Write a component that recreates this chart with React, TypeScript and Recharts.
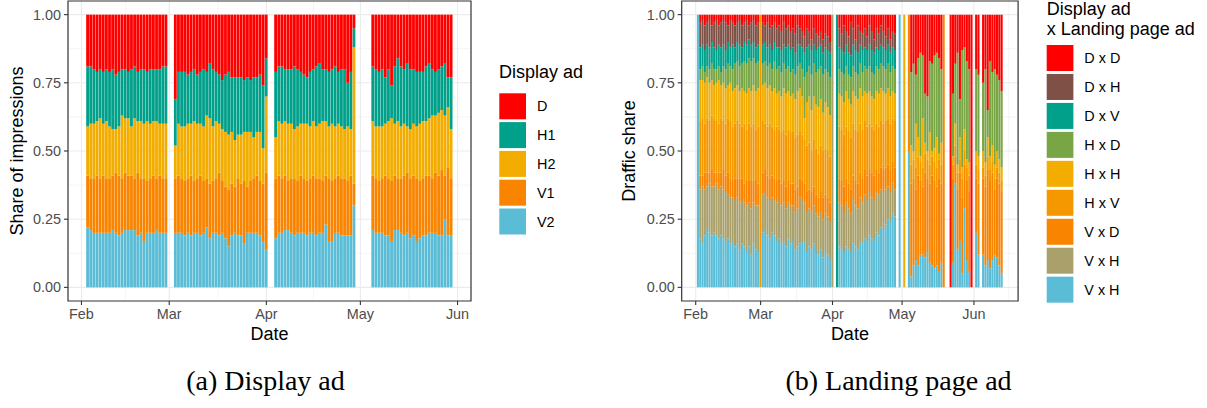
import React from 'react';
import { BarChart, Bar, XAxis, YAxis, CartesianGrid, ReferenceArea } from 'recharts';

const SANS = '"Liberation Sans", Arial, Helvetica, sans-serif';
const SERIF = '"Liberation Serif", "Times New Roman", serif';

const range = (a: number, b: number): number[] => Array.from({ length: b - a + 1 }, (_, i) => a + i);

// x values are days counted from 1 February
const monthTicks = [0, 28, 59, 89, 120];
const monthLabels = ['Feb', 'Mar', 'Apr', 'May', 'Jun'];
const minorDays = [14, 43.5, 74, 104.5, 135];
const shareTicks = [0, 0.25, 0.5, 0.75, 1];
const minorShares = [0.125, 0.375, 0.625, 0.875];

// ---------- (a) display ad impressions ----------
const impressionDays = [...range(2, 27), ...range(30, 59), ...range(62, 87), ...range(93, 118)];

// cumulative share (%) at the upper edge of each layer, bottom to top
const v2Top = [
  22, 21, 20, 20, 20, 20, 20, 20, 21, 20, 19, 20, 21, 21, 21, 21, 19, 20, 17, 20, 20, 20, 21, 20, 20, 20,
  20, 20, 20, 19, 20, 19, 20, 20, 19, 20, 22, 18, 20, 20, 19, 20, 18, 15, 19, 20, 19, 19, 16, 20, 20, 20, 20, 19, 17, 14,
  18, 20, 20, 21, 21, 20, 19, 20, 20, 20, 19, 20, 20, 19, 20, 20, 23, 17, 17, 20, 20, 19, 19, 19, 19, 30,
  21, 20, 20, 20, 19, 19, 17, 21, 21, 20, 19, 20, 18, 19, 17, 18, 19, 19, 20, 20, 20, 19, 19, 25, 19, 19,
];
const v1Top = [
  41, 40, 40, 41, 40, 41, 40, 40, 41, 42, 41, 40, 42, 41, 41, 40, 42, 40, 40, 39, 40, 41, 40, 41, 40, 40,
  40, 41, 40, 39, 40, 41, 39, 40, 41, 39, 40, 38, 39, 40, 42, 39, 37, 36, 38, 37, 40, 38, 39, 37, 39, 40, 41, 39, 38, 42,
  40, 41, 40, 41, 39, 40, 40, 39, 41, 40, 39, 40, 41, 40, 40, 39, 41, 40, 39, 40, 41, 40, 40, 39, 41, 38,
  41, 40, 39, 40, 41, 40, 39, 41, 40, 40, 41, 42, 40, 41, 40, 39, 40, 41, 41, 40, 42, 41, 43, 41, 44, 40,
];
const h2Top = [
  59, 60, 60, 61, 62, 60, 61, 59, 58, 58, 59, 63, 62, 62, 59, 62, 61, 61, 60, 61, 60, 61, 61, 60, 60, 60,
  52, 60, 59, 59, 60, 60, 61, 60, 60, 59, 63, 62, 59, 61, 60, 58, 57, 56, 57, 54, 56, 56, 57, 57, 57, 55, 57, 57, 51, 70,
  55, 61, 60, 61, 60, 60, 58, 59, 60, 60, 60, 59, 61, 59, 60, 61, 61, 59, 60, 59, 60, 59, 58, 59, 58, 88,
  61, 59, 59, 59, 60, 61, 62, 60, 61, 59, 60, 59, 58, 60, 59, 60, 61, 61, 62, 63, 63, 64, 65, 63, 66, 58,
];
const h1Top = [
  81, 81, 80, 79, 80, 79, 80, 79, 80, 78, 79, 80, 80, 79, 80, 81, 79, 80, 80, 79, 80, 80, 80, 80, 81, 81,
  69, 79, 79, 79, 78, 79, 80, 78, 79, 80, 79, 82, 80, 79, 78, 76, 78, 79, 77, 77, 77, 77, 76, 77, 76, 77, 77, 78, 74, 84,
  79, 81, 81, 80, 80, 80, 81, 80, 79, 78, 77, 79, 80, 81, 82, 80, 80, 79, 80, 81, 79, 80, 80, 75, 79, 95,
  81, 80, 79, 80, 77, 80, 74, 81, 84, 81, 80, 82, 80, 80, 79, 79, 79, 81, 82, 80, 79, 80, 81, 82, 77, 77,
];

const displaySeries = [
  { key: 'V2', color: '#5BBCD6' },
  { key: 'V1', color: '#F98400' },
  { key: 'H2', color: '#F2AD00' },
  { key: 'H1', color: '#00A08A' },
  { key: 'D', color: '#FF0000' },
];

const impressionRows = impressionDays.map((day, i) => ({
  day,
  V2: v2Top[i] / 100,
  V1: (v1Top[i] - v2Top[i]) / 100,
  H2: (h2Top[i] - v1Top[i]) / 100,
  H1: (h1Top[i] - h2Top[i]) / 100,
  D: (100 - h1Top[i]) / 100,
}));

// ---------- (b) display ad x landing page ad traffic ----------
const trafficDays = [
  1, ...range(2, 27), 28, ...range(29, 58), 59, 61, ...range(62, 86), 88, 90, 92, ...range(93, 106), 107,
  110, ...range(111, 118), 119, 121, 122, ...range(124, 132),
];

// cumulative share (%) at the upper edge of each layer, bottom to top
const vhBlueTop = [
  100,
  18, 16, 19, 21, 20, 19, 20, 19, 18, 19, 18, 17, 18, 16, 17, 15, 16, 14, 16, 15, 13, 15, 12, 16, 14, 13,
  0,
  20, 21, 19, 18, 20, 19, 17, 18, 16, 17, 15, 18, 16, 17, 14, 15, 16, 17, 17, 13, 15, 14, 16, 13, 12, 14, 11, 13, 12, 10,
  0, 0,
  15, 14, 13, 15, 14, 13, 16, 15, 14, 17, 16, 18, 17, 19, 18, 17, 20, 19, 22, 21, 23, 25, 24, 27, 26,
  100, 0, 50,
  4, 8, 10, 8, 12, 12, 11, 13, 9, 8, 7, 8, 6, 9,
  0, 0,
  9, 38, 14, 17, 5, 29, 10, 6,
  0,
  20, 12,
  12, 8, 10, 7, 10, 12, 11, 8, 5,
];
const vhTanTop = [
  100,
  36, 37, 36, 37, 38, 37, 37, 38, 36, 37, 36, 35, 34, 33, 33, 32, 33, 31, 32, 31, 30, 31, 29, 31, 30, 30,
  0,
  34, 35, 33, 32, 33, 32, 31, 32, 30, 31, 29, 31, 30, 30, 28, 29, 33, 32, 31, 28, 29, 28, 30, 27, 26, 28, 25, 27, 26, 24,
  100, 0,
  31, 30, 28, 31, 29, 27, 32, 30, 29, 33, 31, 34, 32, 35, 33, 32, 35, 34, 36, 35, 36, 37, 35, 38, 36,
  100, 0, 50,
  4, 8, 10, 8, 12, 12, 11, 13, 9, 8, 7, 8, 6, 9,
  0, 0,
  9, 38, 14, 17, 5, 29, 10, 6,
  0,
  20, 12,
  12, 8, 10, 7, 10, 12, 11, 8, 5,
];
const vdTop = [
  100,
  41, 41, 42, 42, 42, 43, 42, 42, 42, 42, 43, 41, 42, 40, 39, 40, 40, 40, 40, 38, 39, 39, 39, 39, 39, 38,
  0,
  42, 43, 41, 40, 41, 40, 39, 40, 38, 39, 37, 39, 38, 38, 36, 37, 40, 39, 38, 35, 36, 35, 37, 34, 33, 35, 33, 34, 33, 31,
  100, 0,
  40, 39, 37, 40, 38, 36, 41, 39, 38, 42, 40, 43, 41, 43, 42, 41, 43, 42, 44, 43, 44, 45, 43, 46, 44,
  100, 0, 100,
  38, 40, 36, 41, 39, 37, 42, 40, 38, 41, 39, 37, 40, 38,
  100, 0,
  40, 48, 36, 42, 33, 45, 39, 35,
  0,
  40, 38,
  40, 37, 43, 39, 42, 36, 40, 38, 35,
];
const hvTop = [
  100,
  61, 62, 60, 62, 61, 63, 62, 61, 60, 62, 61, 60, 62, 61, 59, 60, 61, 60, 59, 60, 58, 60, 59, 60, 58, 59,
  100,
  61, 60, 59, 60, 59, 58, 59, 58, 57, 58, 56, 58, 57, 57, 55, 56, 57, 56, 54, 52, 53, 50, 54, 51, 49, 52, 50, 51, 50, 48,
  100, 0,
  59, 58, 56, 59, 57, 55, 60, 58, 57, 60, 58, 61, 59, 60, 59, 58, 60, 59, 61, 60, 61, 62, 60, 62, 61,
  100, 0, 100,
  45, 47, 44, 48, 46, 44, 49, 47, 45, 48, 46, 44, 47, 45,
  100, 0,
  45, 52, 42, 47, 40, 50, 44, 41,
  0,
  45, 43,
  44, 41, 48, 43, 46, 40, 44, 42, 39,
];
const hhTop = [
  100,
  76, 76, 75, 77, 75, 76, 74, 75, 76, 74, 75, 73, 74, 75, 72, 73, 74, 72, 73, 72, 71, 73, 72, 74, 72, 73,
  100,
  74, 75, 73, 74, 72, 73, 71, 72, 70, 73, 71, 72, 70, 71, 69, 72, 73, 70, 62, 68, 70, 65, 70, 67, 66, 69, 64, 68, 66, 63,
  100, 0,
  71, 70, 68, 72, 69, 67, 72, 70, 69, 73, 70, 72, 71, 72, 70, 69, 72, 71, 73, 72, 71, 73, 70, 72, 71,
  100, 100, 100,
  52, 50, 60, 55, 48, 62, 53, 50, 57, 50, 51, 55, 49, 53,
  100, 0,
  48, 60, 45, 55, 44, 58, 47, 46,
  0,
  50, 48,
  50, 46, 55, 48, 52, 45, 50, 47, 44,
];
const hdTop = [
  100,
  80, 81, 79, 81, 80, 82, 80, 80, 81, 79, 81, 80, 82, 81, 80, 82, 83, 81, 82, 83, 82, 84, 83, 84, 82, 83,
  100,
  82, 83, 81, 82, 80, 83, 80, 81, 79, 82, 80, 81, 79, 80, 78, 81, 82, 80, 77, 79, 81, 78, 82, 79, 80, 81, 78, 80, 79, 77,
  100, 0,
  80, 79, 78, 81, 78, 77, 81, 79, 78, 82, 79, 81, 80, 81, 79, 78, 81, 80, 82, 81, 80, 82, 79, 81, 80,
  100, 100, 100,
  79, 82, 78, 84, 86, 85, 71, 70, 83, 82, 85, 86, 84, 80,
  100, 0,
  71, 82, 86, 69, 87, 88, 83, 80,
  0,
  80, 78,
  75, 80, 65, 83, 79, 80, 78, 76, 72,
];
const dvTop = [
  100,
  88, 89, 87, 89, 88, 90, 88, 87, 89, 88, 89, 87, 90, 88, 89, 88, 90, 89, 88, 90, 89, 91, 89, 90, 88, 89,
  100,
  89, 90, 88, 89, 87, 90, 88, 88, 87, 89, 88, 89, 87, 88, 86, 89, 89, 88, 86, 88, 89, 87, 89, 87, 88, 89, 86, 88, 87, 86,
  100, 100,
  88, 87, 86, 89, 86, 85, 89, 87, 86, 89, 87, 88, 87, 89, 87, 86, 88, 87, 89, 88, 87, 89, 86, 88, 87,
  100, 100, 100,
  79, 82, 78, 84, 86, 85, 71, 70, 83, 82, 85, 86, 84, 80,
  100, 0,
  71, 82, 86, 69, 87, 88, 83, 80,
  0,
  80, 78,
  75, 80, 65, 83, 79, 80, 78, 76, 72,
];
const dhTop = [
  100,
  97, 98, 96, 97, 98, 96, 97, 98, 96, 97, 98, 97, 96, 98, 97, 96, 97, 98, 96, 97, 98, 96, 97, 98, 96, 97,
  100,
  97, 96, 97, 95, 96, 97, 95, 96, 94, 97, 95, 96, 94, 95, 93, 96, 95, 94, 92, 95, 94, 91, 95, 93, 92, 94, 91, 93, 92, 90,
  100, 100,
  95, 93, 96, 94, 92, 97, 95, 91, 96, 94, 93, 95, 92, 96, 94, 91, 95, 93, 96, 94, 92, 95, 91, 94, 93,
  100, 100, 100,
  79, 82, 78, 84, 86, 85, 71, 70, 83, 82, 85, 86, 84, 80,
  100, 0,
  71, 82, 86, 69, 87, 88, 83, 80,
  0,
  80, 78,
  75, 80, 65, 83, 79, 80, 78, 76, 72,
];

const trafficSeries = [
  { key: 'vh2', label: 'V x H', color: '#5BBCD6' },
  { key: 'vh1', label: 'V x H', color: '#AAA06B' },
  { key: 'vd', label: 'V x D', color: '#F98400' },
  { key: 'hv', label: 'H x V', color: '#F59800' },
  { key: 'hh', label: 'H x H', color: '#F2AD00' },
  { key: 'hd', label: 'H x D', color: '#79A645' },
  { key: 'dv', label: 'D x V', color: '#00A08A' },
  { key: 'dh', label: 'D x H', color: '#7F5045' },
  { key: 'dd', label: 'D x D', color: '#FF0000' },
];

const trafficRows = trafficDays.map((day, i) => {
  const edges = [0, vhBlueTop[i], vhTanTop[i], vdTop[i], hvTop[i], hhTop[i], hdTop[i], dvTop[i], dhTop[i], 100];
  const row: Record<string, number> = { day };
  trafficSeries.forEach((s, k) => {
    row[s.key] = (edges[k + 1] - edges[k]) / 100;
  });
  return row;
});

type Series = { key: string; color: string };

type PanelProps = {
  rows: Record<string, number>[];
  series: Series[];
  width: number;
  yAxisWidth: number;
  marginRight: number;
  xDomain: [number, number];
  barSize: number;
};

const axisTick = { fill: '#4D4D4D', fontSize: 14.4, fontFamily: SANS };
const axisTickLine = { stroke: '#333333', strokeWidth: 1.1 };

function SharePanel({ rows, series, width, yAxisWidth, marginRight, xDomain, barSize }: PanelProps) {
  const inside = (d: number) => d > xDomain[0] && d < xDomain[1];
  return (
    <BarChart
      width={width}
      height={342}
      data={rows}
      margin={{ top: 1, right: marginRight, bottom: 0, left: 0 }}
    >
      <CartesianGrid
        stroke="#EBEBEB"
        strokeWidth={0.55}
        horizontalValues={minorShares}
        verticalValues={minorDays.filter(inside)}
      />
      <CartesianGrid
        stroke="#EBEBEB"
        strokeWidth={1.1}
        horizontalValues={shareTicks}
        verticalValues={monthTicks.filter(inside)}
      />
      <XAxis
        dataKey="day"
        type="number"
        domain={xDomain}
        allowDataOverflow
        ticks={monthTicks}
        interval={0}
        tickFormatter={(v: number) => monthLabels[monthTicks.indexOf(v)] ?? ''}
        height={41}
        axisLine={false}
        tickSize={4}
        tickMargin={4}
        tickLine={axisTickLine}
        tick={axisTick}
      />
      <YAxis
        type="number"
        domain={[-0.05, 1.05]}
        allowDataOverflow
        ticks={shareTicks}
        interval={0}
        tickFormatter={(v: number) => v.toFixed(2)}
        width={yAxisWidth}
        axisLine={false}
        tickSize={4}
        tickMargin={3}
        tickLine={axisTickLine}
        tick={axisTick}
      />
      {series.map((s) => (
        <Bar
          key={s.key}
          dataKey={s.key}
          stackId="share"
          fill={s.color}
          barSize={barSize}
          isAnimationActive={false}
        />
      ))}
      <ReferenceArea
        x1={xDomain[0]}
        x2={xDomain[1]}
        y1={-0.05}
        y2={1.05}
        fill="none"
        fillOpacity={0}
        stroke="#333333"
        strokeWidth={1.2}
        ifOverflow="visible"
      />
    </BarChart>
  );
}

const displayLegend = ['D', 'H1', 'H2', 'V1', 'V2'];
const displayLegendColors = ['#FF0000', '#00A08A', '#F2AD00', '#F98400', '#5BBCD6'];
const trafficLegend = [...trafficSeries].reverse();

export default function App() {
  return (
    <div style={{ position: 'absolute', left: 0, top: 0, width: 1207, height: 408, background: '#FFFFFF', overflow: 'hidden' }}>
      <div style={{ position: 'absolute', left: 0, top: 0 }}>
        <SharePanel
          rows={impressionRows}
          series={displaySeries}
          width={480}
          yAxisWidth={68}
          marginRight={9}
          xDomain={[-4.3, 124.3]}
          barSize={2.82}
        />
      </div>
      <div style={{ position: 'absolute', left: 600, top: 0 }}>
        <SharePanel
          rows={trafficRows}
          series={trafficSeries}
          width={424}
          yAxisWidth={81.7}
          marginRight={5.9}
          xDomain={[-6.045, 139.045]}
          barSize={2.08}
        />
      </div>
      <svg
        width={1207}
        height={408}
        style={{ position: 'absolute', left: 0, top: 0, pointerEvents: 'none' }}
        fontFamily={SANS}
      >
        {/* axis titles */}
        <text transform="translate(16.5,151) rotate(-90)" textAnchor="middle" dy="0.355em" fontSize={18} fill="#000">
          Share of impressions
        </text>
        <text transform="translate(628.5,151) rotate(-90)" textAnchor="middle" dy="0.355em" fontSize={18} fill="#000">
          Draffic share
        </text>
        <text x={269.5} y={340} textAnchor="middle" fontSize={18} fill="#000">Date</text>
        <text x={849.9} y={340} textAnchor="middle" fontSize={18} fill="#000">Date</text>

        {/* legend (a) */}
        <text x={499} y={78} fontSize={18} fill="#000">Display ad</text>
        {displayLegend.map((name, i) => (
          <g key={name}>
            <rect x={499.3} y={93.3 + i * 28.8} width={26.7} height={26} fill={displayLegendColors[i]} />
            <text x={537} y={106.3 + i * 28.8} dy="0.355em" fontSize={14.4} fill="#000">{name}</text>
          </g>
        ))}

        {/* legend (b) */}
        <text x={1046.7} y={14.8} fontSize={18} fill="#000">Display ad</text>
        <text x={1046.7} y={34.5} fontSize={18} fill="#000">x Landing page ad</text>
        {trafficLegend.map((s, i) => (
          <g key={s.key}>
            <rect x={1046.7} y={45 + i * 28.96} width={26.7} height={26} fill={s.color} />
            <text x={1084.3} y={58 + i * 28.96} dy="0.355em" fontSize={14.4} fill="#000">{s.label}</text>
          </g>
        ))}

        {/* sub-figure captions */}
        <text x={265.5} y={390} textAnchor="middle" fontFamily={SERIF} fontSize={28} fill="#000">(a) Display ad</text>
        <text x={898.5} y={390} textAnchor="middle" fontFamily={SERIF} fontSize={28} fill="#000">(b) Landing page ad</text>
      </svg>
    </div>
  );
}
